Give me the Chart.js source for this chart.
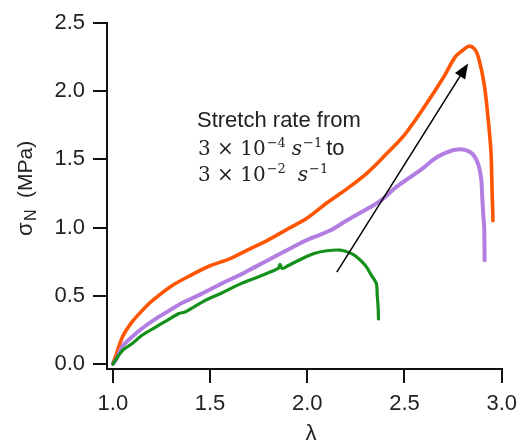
<!DOCTYPE html>
<html>
<head>
<meta charset="utf-8">
<script src="https://cdn.jsdelivr.net/npm/chart.js@4/dist/chart.umd.min.js"></script>
<style>
  body { margin: 0; background: #fff; }
  canvas { display: block; }
</style>
</head>
<body>
<canvas id="chart" width="525" height="445"></canvas>
<script>
// stretch ratio (lambda) and nominal stress (MPa)
const fastLambda = [1.0, 1.02, 1.05, 1.1, 1.15, 1.2, 1.3, 1.4, 1.5, 1.6, 1.7, 1.8, 1.9, 2.0, 2.1, 2.2, 2.3, 2.4, 2.5, 2.6, 2.7, 2.76, 2.8, 2.83, 2.86, 2.88, 2.91, 2.93, 2.945, 2.95, 2.955];
const fastStress = [0, 0.08, 0.2, 0.31, 0.39, 0.46, 0.57, 0.65, 0.72, 0.77, 0.84, 0.91, 0.99, 1.07, 1.18, 1.28, 1.39, 1.53, 1.68, 1.88, 2.1, 2.25, 2.3, 2.33, 2.31, 2.25, 2.05, 1.8, 1.55, 1.3, 1.05];

const midLambda = [1.0, 1.02, 1.05, 1.1, 1.15, 1.22, 1.3, 1.36, 1.45, 1.56, 1.65, 1.73, 1.85, 1.93, 2.0, 2.12, 2.2, 2.3, 2.37, 2.46, 2.52, 2.59, 2.65, 2.7, 2.76, 2.81, 2.85, 2.88, 2.895, 2.9, 2.905, 2.91, 2.912];
const midStress = [0, 0.04, 0.13, 0.2, 0.26, 0.33, 0.4, 0.45, 0.51, 0.59, 0.65, 0.71, 0.8, 0.86, 0.91, 0.98, 1.05, 1.13, 1.19, 1.3, 1.36, 1.43, 1.5, 1.54, 1.57, 1.57, 1.54, 1.46, 1.35, 1.22, 1.1, 1.0, 0.76];

const slowLambda = [1.0, 1.05, 1.1, 1.15, 1.22, 1.28, 1.34, 1.37, 1.42, 1.48, 1.56, 1.645, 1.75, 1.85, 1.86, 1.87, 1.9, 1.97, 2.035, 2.1, 2.17, 2.21, 2.25, 2.3, 2.33, 2.355, 2.36, 2.365, 2.366];
const slowStress = [0, 0.1, 0.15, 0.21, 0.27, 0.32, 0.37, 0.38, 0.42, 0.47, 0.52, 0.58, 0.64, 0.7, 0.73, 0.7, 0.72, 0.77, 0.81, 0.83, 0.835, 0.82, 0.79, 0.72, 0.65, 0.59, 0.5, 0.4, 0.33];

const xTicks = [1.0, 1.5, 2.0, 2.5, 3.0];
const yTicks = [0.0, 0.5, 1.0, 1.5, 2.0, 2.5];

// arrow from slow to fast rate, in data units
const arrowFrom = [2.152, 0.674];
const arrowTo = [2.827, 2.203];

const pts = (xs, ys) => xs.map((x, i) => ({ x: x, y: ys[i] }));

const TEXT = '#222';
const SANS = '"Liberation Sans", Arial, sans-serif';
const SERIF = '"DejaVu Serif", serif';

// draws pieces one after the other: [text, font, gapBefore, baselineShift]
function drawRun(ctx, x, y, pieces) {
  for (const [txt, font, gap, dy] of pieces) {
    x += gap;
    ctx.font = font;
    ctx.fillText(txt, x, y + dy);
    x += ctx.measureText(txt).width;
  }
}

const overlay = {
  id: 'overlay',
  afterDatasetsDraw(chart) {
    const ctx = chart.ctx;
    const xs = chart.scales.x, ys = chart.scales.y;

    // arrow
    const x1 = xs.getPixelForValue(arrowFrom[0]), y1 = ys.getPixelForValue(arrowFrom[1]);
    const x2 = xs.getPixelForValue(arrowTo[0]), y2 = ys.getPixelForValue(arrowTo[1]);
    const ang = Math.atan2(y2 - y1, x2 - x1);
    const hl = 15, hw = 6;
    ctx.save();
    ctx.strokeStyle = '#000';
    ctx.fillStyle = '#000';
    ctx.lineWidth = 1.5;
    ctx.beginPath();
    ctx.moveTo(x1, y1);
    ctx.lineTo(x2 - hl * Math.cos(ang), y2 - hl * Math.sin(ang));
    ctx.stroke();
    ctx.beginPath();
    ctx.moveTo(x2, y2);
    ctx.lineTo(x2 - hl * Math.cos(ang) + hw * Math.sin(ang), y2 - hl * Math.sin(ang) - hw * Math.cos(ang));
    ctx.lineTo(x2 - hl * Math.cos(ang) - hw * Math.sin(ang), y2 - hl * Math.sin(ang) + hw * Math.cos(ang));
    ctx.closePath();
    ctx.fill();
    ctx.restore();
  },
  afterDraw(chart) {
    const ctx = chart.ctx;
    ctx.save();
    ctx.fillStyle = TEXT;
    ctx.textBaseline = 'alphabetic';
    ctx.textAlign = 'left';

    // annotation
    const big = '22px ' + SANS;
    const num = '20px ' + SERIF;
    const sup = '13px ' + SERIF;
    const ital = 'italic 20px ' + SERIF;
    ctx.font = big;
    ctx.fillText('Stretch rate from', 197, 127);
    drawRun(ctx, 198, 155, [
      ['3 \u00d7 10', num, 0, 0], ['\u22124', sup, 1, -8],
      ['s', ital, 6, 0], ['\u22121', sup, 1, -8], ['to', big, 4, 0]
    ]);
    drawRun(ctx, 198, 181, [
      ['3 \u00d7 10', num, 0, 0], ['\u22122', sup, 1, -8],
      ['s', ital, 12, 0], ['\u22121', sup, 1, -8]
    ]);

    // x title
    ctx.textAlign = 'center';
    ctx.font = big;
    ctx.fillText('\u03bb', 311, 440);

    // y title, rotated
    ctx.translate(32, 236);
    ctx.rotate(-Math.PI / 2);
    ctx.textAlign = 'left';
    ctx.font = big;
    ctx.fillText('\u03c3', 0, 0);
    ctx.font = '16px ' + SANS;
    ctx.fillText('N', 15, 4);
    ctx.font = '21px ' + SANS;
    ctx.fillText('(MPa)', 38, 0);
    ctx.restore();
  }
};

const axisCommon = {
  type: 'linear',
  grid: {
    display: true,
    drawOnChartArea: false,
    drawTicks: true,
    tickLength: 14,
    color: '#111',
    lineWidth: 2,
    tickColor: '#111',
    tickWidth: 2
  },
  border: { display: true, color: '#111', width: 2 }
};

const lineStyle = { showLine: true, pointRadius: 0, tension: 0.3, borderCapStyle: 'round', borderJoinStyle: 'round' };

new Chart(document.getElementById('chart'), {
  type: 'scatter',
  data: {
    datasets: [
      { label: '3e-4', data: pts(slowLambda, slowStress), borderColor: '#14901a', borderWidth: 3.2, ...lineStyle },
      { label: 'mid', data: pts(midLambda, midStress), borderColor: '#b27ee2', borderWidth: 4, ...lineStyle },
      { label: '3e-2', data: pts(fastLambda, fastStress), borderColor: '#ff5500', borderWidth: 3.6, ...lineStyle }
    ]
  },
  options: {
    responsive: false,
    animation: false,
    devicePixelRatio: 1,
    layout: { padding: { top: 23, right: 18, left: 0, bottom: 0 } },
    plugins: { legend: { display: false }, tooltip: { enabled: false } },
    scales: {
      x: {
        ...axisCommon,
        min: 0.97,
        max: 3.0,
        afterBuildTicks: s => { s.ticks = xTicks.map(v => ({ value: v })); },
        afterFit: s => { s.height = 76; },
        ticks: {
          color: TEXT,
          padding: 8,
          maxRotation: 0,
          font: { family: SANS, size: 22 },
          callback: v => Number(v).toFixed(1)
        }
      },
      y: {
        ...axisCommon,
        min: -0.037,
        max: 2.5,
        afterBuildTicks: s => { s.ticks = yTicks.map(v => ({ value: v })); },
        afterFit: s => { s.width = 107; },
        ticks: {
          color: TEXT,
          padding: 8,
          font: { family: SANS, size: 22 },
          callback: v => Number(v).toFixed(1)
        }
      }
    }
  },
  plugins: [overlay]
});
</script>
</body>
</html>
